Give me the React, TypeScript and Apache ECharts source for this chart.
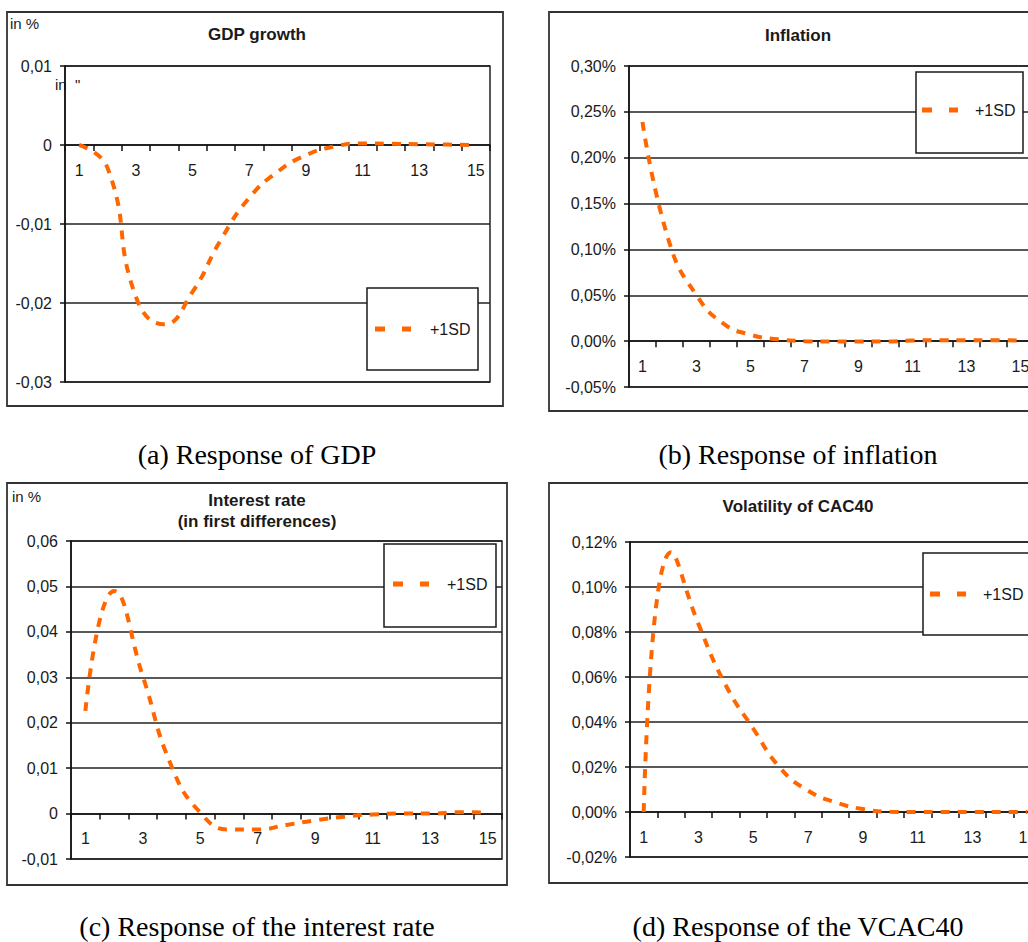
import React, { useEffect, useRef } from "react";
import * as echarts from "echarts";

const periods = ["1","2","3","4","5","6","7","8","9","10","11","12","13","14","15"];
const gdpValues = [0, -0.0029, -0.0192, -0.0227, -0.0186, -0.0120, -0.0067, -0.0034, -0.0013, -0.0002, 0.0002, 0.00015, 0.0001, 0.00005, 0];
const inflationValues = [0.239, 0.107, 0.050, 0.019, 0.007, 0.002, 0.0, -0.0005, -0.0005, -0.0005, 0.0007, 0.001, 0.001, 0.001, 0.0007];
const interestValues = [0.0226, 0.049, 0.0302, 0.0104, 0.0002, -0.0035, -0.0035, -0.0025, -0.0015, -0.0007, -0.0002, 0, 0, 0.0003, 0.0002];
const volatilityValues = [0, 0.1155, 0.0835, 0.0562, 0.0370, 0.0193, 0.0095, 0.0043, 0.0013, 0.0001, 0, 0, 0, 0, 0];
const seriesName = "+1SD";
const titles = ["GDP growth", "Inflation", "Interest rate\n(in first differences)", "Volatility of CAC40"];
const captions = ["(a) Response of GDP", "(b) Response of inflation", "(c) Response of the interest rate", "(d) Response of the VCAC40"];

const ORANGE = "#FF6600";
const INK = "#1a1a1a";
const SANS = "Liberation Sans, Arial, sans-serif";
const SERIF = "Liberation Serif, Times New Roman, serif";

const fmt = (pct: boolean) => (v: number) => {
  const r = Math.round(v * 100) / 100;
  if (!pct && r === 0) return "0";
  return r.toFixed(2).replace(".", ",") + (pct ? "%" : "");
};

export default function App() {
  const ref = useRef<HTMLDivElement>(null);
  useEffect(() => {
    if (!ref.current) return;
    const chart = echarts.init(ref.current, undefined, { renderer: "svg" });
    const grids = [
      { left: 65, top: 66, width: 425, height: 316 },
      { left: 629, top: 66, width: 405, height: 321 },
      { left: 71, top: 541, width: 431, height: 318 },
      { left: 630, top: 542, width: 411, height: 315 },
    ];
    const yRanges = [
      { min: -0.03, max: 0.01, interval: 0.01, pct: false },
      { min: -0.05, max: 0.3, interval: 0.05, pct: true },
      { min: -0.01, max: 0.06, interval: 0.01, pct: false },
      { min: -0.02, max: 0.12, interval: 0.02, pct: true },
    ];
    const data = [gdpValues, inflationValues, interestValues, volatilityValues];

    const frames = [
      { x: 7, y: 12, w: 496, h: 394 },
      { x: 549, y: 12, w: 500, h: 399 },
      { x: 7, y: 483, w: 500, h: 402 },
      { x: 549, y: 483, w: 500, h: 400 },
    ];
    const legends = [
      { x: 367, y: 288, w: 111, h: 82, lx: 375, ly: 329, tx: 430 },
      { x: 916, y: 72, w: 107, h: 81, lx: 922, ly: 110, tx: 975 },
      { x: 384, y: 544, w: 112, h: 83, lx: 393, ly: 584, tx: 447 },
      { x: 923, y: 553, w: 130, h: 82, lx: 930, ly: 594, tx: 983 },
    ];
    const titlePos = [
      { x: 257, y: 34 },
      { x: 798, y: 35 },
      { x: 257, y: 511 },
      { x: 798, y: 506 },
    ];
    const captionPos = [
      { x: 257, y: 454 },
      { x: 798, y: 454 },
      { x: 257, y: 926 },
      { x: 798, y: 926 },
    ];

    const graphic: any[] = [];
    frames.forEach((f) =>
      graphic.push({ type: "rect", z: 1, shape: { x: f.x, y: f.y, width: f.w, height: f.h }, style: { fill: "none", stroke: "#333", lineWidth: 1.8 } })
    );
    legends.forEach((l) => {
      graphic.push({ type: "rect", z: 50, shape: { x: l.x, y: l.y, width: l.w, height: l.h }, style: { fill: "#fff", stroke: INK, lineWidth: 1.5 } });
      graphic.push({ type: "line", z: 51, shape: { x1: l.lx, y1: l.ly, x2: l.lx + 36, y2: l.ly }, style: { stroke: ORANGE, lineWidth: 5, lineDash: [10, 17] } });
      graphic.push({ type: "text", z: 51, x: l.tx, y: l.ly, style: { text: seriesName, font: "16px " + SANS, fill: INK, align: "left", verticalAlign: "middle" } });
    });
    titles.forEach((t, i) =>
      graphic.push({ type: "text", z: 51, x: titlePos[i].x, y: titlePos[i].y, style: { text: t, font: "bold 17px " + SANS, fill: INK, align: "center", verticalAlign: "middle", lineHeight: 21 } })
    );
    captions.forEach((t, i) =>
      graphic.push({ type: "text", z: 51, x: captionPos[i].x, y: captionPos[i].y, style: { text: t, font: "28px " + SERIF, fill: "#000", align: "center", verticalAlign: "middle" } })
    );
    graphic.push({ type: "text", z: 51, x: 10, y: 23, style: { text: "in %", font: "15px " + SANS, fill: INK, align: "left", verticalAlign: "middle" } });
    graphic.push({ type: "text", z: 51, x: 12, y: 496, style: { text: "in %", font: "15px " + SANS, fill: INK, align: "left", verticalAlign: "middle" } });
    graphic.push({ type: "text", z: 0, x: 55, y: 84, style: { text: 'in  "', font: "15px " + SANS, fill: INK, align: "left", verticalAlign: "middle" } });

    const option: any = {
      animation: false,
      backgroundColor: "#fff",
      grid: grids.map((g) => ({ ...g, show: true, borderColor: "#222", borderWidth: 1.5, backgroundColor: "transparent" })),
      xAxis: grids.map((g, i) => {
        const r = yRanges[i];
        // place the category axis at the value 0 of its value axis
        const zeroOffset = -g.height * (0 - r.min) / (r.max - r.min);
        return {
          type: "category",
          gridIndex: i,
          position: "bottom",
          offset: zeroOffset,
          data: periods,
          boundaryGap: true,
          axisLine: { onZero: false, lineStyle: { color: "#111", width: 1.5 } },
          axisTick: { show: true, interval: 0, length: 6, lineStyle: { color: "#111", width: 1.5 } },
          axisLabel: { interval: 1, margin: 17, color: INK, fontSize: 16, fontFamily: SANS },
          splitLine: { show: false },
        };
      }),
      yAxis: yRanges.map((r, i) => ({
        type: "value",
        gridIndex: i,
        min: r.min,
        max: r.max,
        interval: r.interval,
        axisLine: { show: true, onZero: false, lineStyle: { color: "#111", width: 1.5 } },
        axisTick: { show: true, length: 5, lineStyle: { color: "#111", width: 1.5 } },
        axisLabel: { margin: 13, color: INK, fontSize: 16, fontFamily: SANS, formatter: fmt(r.pct) },
        splitLine: { show: true, lineStyle: { color: "#222", width: 1.5 } },
      })),
      series: data.map((d, i) => ({
        type: "line",
        name: seriesName,
        xAxisIndex: i,
        yAxisIndex: i,
        data: d,
        smooth: 0.5,
        showSymbol: false,
        z: 5,
        lineStyle: { color: ORANGE, width: 4, type: [9, 8], cap: "butt" },
      })),
      graphic,
    };
    chart.setOption(option);
    return () => chart.dispose();
  }, []);
  return (
    <div style={{ position: "absolute", left: 0, top: 0, width: 1028, height: 942, overflow: "hidden", background: "#fff" }}>
      <div ref={ref} style={{ width: 1060, height: 942 }} />
    </div>
  );
}
